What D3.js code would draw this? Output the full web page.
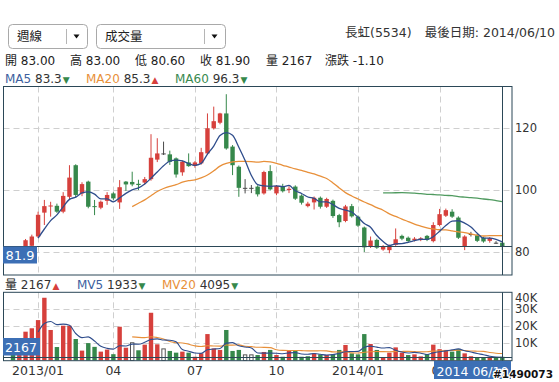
<!DOCTYPE html>
<html><head><meta charset="utf-8">
<script src="https://cdn.jsdelivr.net/npm/d3@7"></script>
<style>
html,body{margin:0;padding:0;background:#fff;}
svg{display:block;font-family:"DejaVu Sans","Noto Sans CJK TC",sans-serif;}
</style></head><body>
<svg id="c" width="559" height="382"></svg>
<script>
// ---------- data (weekly, 長虹 5534) ----------
const openP = [80.8,80.0,81.8,82.0,85.0,92.7,94.7,94.9,93.0,97.8,
  108.0,98.9,102.7,94.8,94.3,96.5,98.9,96.0,102.7,102.6,
  102.0,102.4,103.5,109.8,111.8,111.5,110.2,105.7,108.9,107.8,
  108.6,111.8,119.9,121.7,124.7,114.0,107.5,100.7,100.7,101.1,
  98.9,106.1,98.9,101.1,100.0,101.1,98.2,94.8,96.0,97.5,
  94.6,96.5,91.9,90.0,94.8,91.4,87.9,81.7,83.9,80.8,
  80.6,82.3,85.2,84.6,83.8,83.9,85.2,83.5,88.7,91.7,
  93.0,91.1,81.7,85.8,85.4,84.6,83.6,83.0,83.0];
const highP = [81.2,81.8,84.2,85.6,93.0,96.8,96.2,95.6,99.3,108.0,
  108.3,102.5,103.0,96.8,96.6,99.3,99.3,103.2,102.9,105.9,
  103.3,104.2,118.0,116.7,115.6,112.7,110.5,109.5,111.8,109.3,
  113.6,124.7,126.9,124.9,130.9,114.5,107.9,103.5,101.6,101.5,
  106.2,108.0,101.6,102.0,101.2,101.5,98.6,96.2,97.9,97.9,
  97.5,96.9,92.3,95.2,95.5,91.8,88.2,85.0,84.3,82.2,
  82.4,87.6,85.6,85.0,84.8,84.8,85.5,89.6,93.9,94.0,
  93.8,91.5,85.4,86.5,85.8,84.9,84.8,83.5,83.0];
const lowP = [78.5,79.2,81.2,81.5,84.6,88.7,91.4,92.6,92.5,97.0,
  97.5,98.0,94.1,91.9,93.8,95.2,96.8,93.9,99.7,101.2,
  100.0,101.8,103.0,109.0,111.3,108.1,104.0,104.6,107.5,107.2,
  108.2,111.3,119.5,121.2,113.0,104.8,97.8,98.9,99.0,97.9,
  98.5,99.8,98.3,99.2,99.0,96.8,95.3,94.4,93.7,94.0,
  94.2,91.0,88.0,89.6,91.1,88.1,80.0,81.3,81.0,80.4,
  79.6,82.0,83.8,83.1,83.4,83.5,83.5,83.1,88.3,91.3,
  91.0,84.2,80.6,85.0,83.2,83.0,83.0,82.6,80.6];
const closeP = [80.0,81.5,83.8,85.0,92.0,94.8,95.0,93.0,98.1,104.0,
  98.4,101.9,94.6,94.5,96.2,98.4,97.3,100.9,101.8,101.8,
  101.6,103.5,110.4,111.8,111.8,109.1,105.0,109.1,107.7,108.9,
  112.2,119.9,122.2,124.7,113.4,108.0,100.7,100.7,100.7,98.6,
  105.8,100.2,101.3,99.6,100.4,97.2,95.9,95.6,97.5,94.6,
  97.1,91.6,89.6,94.7,91.5,88.5,81.5,83.7,81.4,81.8,
  82.0,84.1,84.3,83.5,84.3,84.4,83.9,88.7,92.2,93.5,
  91.4,84.6,85.0,85.8,83.6,83.4,84.5,83.0,81.9];
const volume = [12000,12000,16900,18900,23700,36800,17900,7900,20400,20400,
  12600,5800,10200,8000,5200,6400,3700,19800,7500,10700,
  6000,9300,28000,9500,7100,5600,4600,5200,4600,2200,
  4200,15500,7100,6200,17900,5600,6200,3600,3600,3200,
  5000,6200,3200,2200,5800,5800,2200,2500,4200,3600,
  3200,3600,6200,9100,4200,3600,15500,9700,6200,1685,
  4600,7700,4600,3200,3600,2400,3800,9300,6650,6200,
  5200,6600,4200,2500,1900,1800,2200,1598,2167];
const tickIndex = [4,16,29,42,55,68];
const tickLabels = ["2013/01","04","07","10","2014/01","04"];
const priceTicks = [80,100,120];
const volTicks = [10000,20000,30000,40000];
const volTickLabels = ["10K","20K","30K","40K"];
const stockName = "長虹(5534)";
const lastDate = "2014/06/10";
const lastDateBox = "2014 06/10";
const watermark = "#1490073";

// ---------- setup ----------
const svg = d3.select("#c");
const N = closeP.length, L = N - 1;
const RED = "#d6403c", GREEN = "#36884b", DOJI = "#4a4a4a";
const FRAME = "#2b4757", GRID = "#cfcfcf", TXT = "#333";
const BLUE = "#2f4d8c", ORANGE = "#e8903a", MGREEN = "#4f9a5f";
const BOX = "#3c6fb5";
const M = {l: 3.5, r: 512, t: 86.5, b: 275};
const V = {t: 292.3, b: 360.7};

const x = d3.scaleLinear().domain([0, N - 1]).range([13, 502.3]);
const y = d3.scaleLinear().domain([80, 120]).range([252, 128]);
const yv = d3.scaleLinear().domain([0, 40000]).range([360.5, 292.3]);

function ma(arr, n) {
  return arr.map((_, i) => i < n - 1 ? null : d3.mean(arr.slice(i - n + 1, i + 1)));
}
const ma5 = ma(closeP, 5), ma20 = ma(closeP, 20), ma60 = ma(closeP, 60);
const mv5 = ma(volume, 5), mv20 = ma(volume, 20);

const defs = svg.append("defs");
defs.append("clipPath").attr("id", "cm").append("rect")
  .attr("x", M.l).attr("y", M.t).attr("width", M.r - M.l).attr("height", M.b - M.t);
defs.append("clipPath").attr("id", "cv").append("rect")
  .attr("x", M.l).attr("y", V.t).attr("width", M.r - M.l).attr("height", V.b - V.t);

// ---------- top controls ----------
function dropdown(x0, w, sepX, label) {
  const g = svg.append("g");
  g.append("rect").attr("x", x0 + 0.5).attr("y", 24.5).attr("width", w).attr("height", 24)
    .attr("rx", 4).attr("fill", "#fff").attr("stroke", "#a9a9a9");
  g.append("line").attr("x1", sepX + 0.5).attr("x2", sepX + 0.5).attr("y1", 29).attr("y2", 44)
    .attr("stroke", "#b5b5b5");
  const ax = sepX + 10.5;
  g.append("path").attr("d", `M${ax - 3},34.5 L${ax + 3},34.5 L${ax},38.5 Z`).attr("fill", "#111");
  g.append("text").attr("x", x0 + 9).attr("y", 40.5).attr("font-size", 12.5).attr("fill", "#222").text(label);
}
dropdown(8, 79, 66, "週線");
dropdown(96, 129, 204, "成交量");

svg.append("text").attr("x", 345).attr("y", 37).attr("font-size", 12.5).attr("fill", TXT).text(stockName);
svg.append("text").attr("x", 555).attr("y", 37).attr("font-size", 12.5).attr("fill", TXT)
  .attr("text-anchor", "end").text("最後日期: " + lastDate);

// ---------- info rows ----------
const chg = closeP[L] - closeP[L - 1];
const row1 = [
  [5, "開 " + openP[L].toFixed(2)], [70, "高 " + highP[L].toFixed(2)],
  [135, "低 " + lowP[L].toFixed(2)], [200, "收 " + closeP[L].toFixed(2)],
  [266, "量 " + volume[L]], [325, "漲跌 " + chg.toFixed(2)]];
row1.forEach(([px, s]) => svg.append("text").attr("x", px).attr("y", 65).attr("font-size", 12)
  .attr("fill", "#222").text(s));

function legendItem(px, py, name, color, val, up) {
  const t = svg.append("text").attr("x", px).attr("y", py).attr("font-size", 12);
  t.append("tspan").attr("fill", color).text(name + " ");
  t.append("tspan").attr("fill", TXT).text(val);
  t.append("tspan").attr("fill", up ? RED : GREEN).attr("font-size", 9).attr("dx", 1).text(up ? "▲" : "▼");
}
legendItem(5, 83.3, "MA5", "#3d5f9e", ma5[L].toFixed(1), ma5[L] > ma5[L - 1]);
legendItem(86, 83.3, "MA20", ORANGE, ma20[L].toFixed(1), ma20[L] > ma20[L - 1]);
legendItem(175, 83.3, "MA60", "#3a8a50", ma60[L].toFixed(1), ma60[L] > ma60[L - 1]);

legendItem(5, 288.5, "量", "#222", String(volume[L]), volume[L] > volume[L - 1]);
legendItem(77, 288.5, "MV5", "#3d5f9e", String(Math.round(mv5[L])), mv5[L] > mv5[L - 1]);
legendItem(162, 288.5, "MV20", ORANGE, String(Math.round(mv20[L])), mv20[L] > mv20[L - 1]);

// ---------- grid ----------
const grid = svg.append("g").attr("stroke", GRID).attr("stroke-dasharray", "6,4").attr("fill", "none");
tickIndex.forEach(i => {
  const gx = Math.round(x(i)) + 0.5;
  grid.append("line").attr("x1", gx).attr("x2", gx).attr("y1", M.t).attr("y2", M.b);
  grid.append("line").attr("x1", gx).attr("x2", gx).attr("y1", V.t).attr("y2", V.b);
});
priceTicks.forEach(v => {
  const gy = Math.round(y(v)) + 0.5;
  grid.append("line").attr("x1", M.l).attr("x2", M.r).attr("y1", gy).attr("y2", gy);
});
volTicks.slice(0, 3).forEach(v => {
  const gy = Math.round(yv(v)) + 0.5;
  grid.append("line").attr("x1", M.l).attr("x2", M.r).attr("y1", gy).attr("y2", gy);
});

// ---------- candles ----------
const cg = svg.append("g").attr("clip-path", "url(#cm)");
const bw = 4.4;
function cColor(i) { return closeP[i] > openP[i] ? RED : closeP[i] < openP[i] ? GREEN : DOJI; }
d3.range(N).forEach(i => {
  const cx = x(i), col = cColor(i);
  cg.append("line").attr("x1", cx).attr("x2", cx).attr("y1", y(highP[i])).attr("y2", y(lowP[i]))
    .attr("stroke", col).attr("stroke-width", 1);
  const top = y(Math.max(openP[i], closeP[i])), bot = y(Math.min(openP[i], closeP[i]));
  cg.append("rect").attr("x", cx - bw / 2).attr("y", top).attr("width", bw)
    .attr("height", Math.max(1, bot - top)).attr("fill", col);
});
const lineGen = sc => d3.line().defined(d => d != null).x((d, i) => x(i)).y(d => sc(d)).curve(d3.curveMonotoneX);
[[ma60, MGREEN], [ma20, ORANGE], [ma5, BLUE]].forEach(([arr, col]) => {
  cg.append("path").datum(arr).attr("d", lineGen(y)).attr("fill", "none")
    .attr("stroke", col).attr("stroke-width", 1.3);
});

// ---------- volume ----------
const vg = svg.append("g").attr("clip-path", "url(#cv)");
d3.range(N).forEach(i => {
  const prev = i === 0 ? openP[0] : closeP[i - 1];
  const c = closeP[i];
  const top = yv(volume[i]), h = yv(0) - top;
  if (c === prev) {
    vg.append("rect").attr("x", x(i) - bw / 2 + 0.5).attr("y", top + 0.5).attr("width", bw - 1)
      .attr("height", Math.max(0, h - 0.5)).attr("fill", "#fff").attr("stroke", "#555").attr("stroke-width", 1);
  } else {
    vg.append("rect").attr("x", x(i) - bw / 2).attr("y", top).attr("width", bw)
      .attr("height", h).attr("fill", c > prev ? RED : GREEN);
  }
});
[[mv20, ORANGE], [mv5, BLUE]].forEach(([arr, col]) => {
  vg.append("path").datum(arr).attr("d", lineGen(yv)).attr("fill", "none")
    .attr("stroke", col).attr("stroke-width", 1.1);
});

// ---------- crosshair & frames ----------
const fr = svg.append("g").attr("stroke", FRAME).attr("fill", "none").attr("stroke-width", 1);
const hx = Math.round(x(L)) + 0.5;
fr.append("line").attr("x1", hx).attr("x2", hx).attr("y1", M.t).attr("y2", M.b);
fr.append("line").attr("x1", hx).attr("x2", hx).attr("y1", V.t).attr("y2", V.b);
const hy = Math.round(y(closeP[L])) + 0.5;
fr.append("line").attr("x1", M.l).attr("x2", M.r).attr("y1", hy).attr("y2", hy);
const hvy = Math.round(yv(volume[L])) + 0.5;
fr.append("line").attr("x1", M.l).attr("x2", M.r).attr("y1", hvy).attr("y2", hvy);
fr.append("rect").attr("x", M.l).attr("y", M.t).attr("width", M.r - M.l).attr("height", M.b - M.t);
fr.append("rect").attr("x", M.l).attr("y", V.t).attr("width", M.r - M.l).attr("height", V.b - V.t);

// ---------- axis labels ----------
priceTicks.forEach(v => svg.append("text").attr("x", 515).attr("y", y(v) + 4)
  .attr("font-size", 11.5).attr("fill", TXT).text(v));
volTicks.forEach((v, k) => svg.append("text").attr("x", 515)
  .attr("y", Math.max(yv(v), V.t + 6) + 4).attr("font-size", 11.5).attr("fill", TXT).text(volTickLabels[k]));
tickIndex.forEach((i, k) => svg.append("text").attr("x", x(i)).attr("y", 375)
  .attr("text-anchor", "middle").attr("font-size", 12.5).attr("fill", TXT).text(tickLabels[k]));

// ---------- value boxes ----------
function box(bx, by, w, h, s, tx, ty, fs) {
  svg.append("rect").attr("x", bx).attr("y", by).attr("width", w).attr("height", h).attr("fill", BOX);
  svg.append("text").attr("x", tx).attr("y", ty).attr("text-anchor", "middle")
    .attr("font-size", fs).attr("fill", "#fff").text(s);
}
box(3, hy, 34, 17, closeP[L].toFixed(1), 20, hy + 13, 13);
box(3, 338, 37, 17.5, String(volume[L]), 21, 351.5, 12.5);
box(434, 361, 77, 18, lastDateBox, 472.5, 375.5, 12.5);

svg.append("text").attr("x", 553).attr("y", 378).attr("text-anchor", "end")
  .attr("font-size", 10.5).attr("font-weight", "bold").attr("fill", "#111")
  .attr("stroke", "#fff").attr("stroke-width", 2.5).attr("paint-order", "stroke")
  .attr("stroke-linejoin", "round").text(watermark);
</script>
</body></html>
